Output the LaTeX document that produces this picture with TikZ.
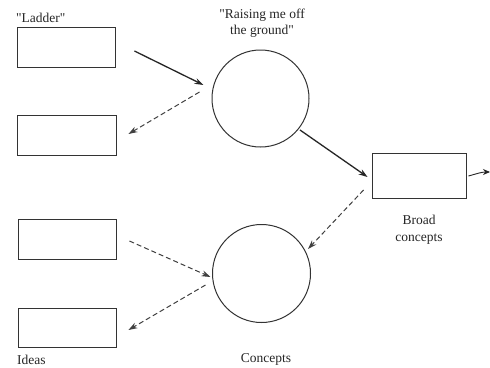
\documentclass[tikz,border=0pt]{standalone}
\usepackage{fontspec}
\setmainfont{Liberation Serif}[Ligatures=TeXOff]
\usetikzlibrary{arrows.meta,calc}
\begin{document}
\begin{tikzpicture}[x=1pt,y=-1pt,
  box/.style={draw=black!80,line width=0.9pt,inner sep=0pt,minimum width=98pt,minimum height=40pt},
  circ/.style={draw=black!80,line width=1pt,circle,inner sep=0pt,minimum size=97pt},
  lbl/.style={text=black!85,font=\fontsize{13.5}{16.5}\selectfont,inner sep=0pt},
  solidarrow/.style={draw=black!85,line width=1.3pt,-{Stealth[length=9pt,width=6pt]}},
  dasharrow/.style={draw=black!75,line width=1pt,dash pattern=on 5pt off 3pt,-{Stealth[length=9pt,width=6pt]}}]
\useasboundingbox (0,0) rectangle (490,367);
\fill[white] (0,0) rectangle (490,367);
% boxes
\node[box] (b1) at (66,47) {};
\node[box,minimum width=99pt] (b2) at (66.5,135) {};
\node[box] (b3) at (67,239) {};
\node[box,minimum height=39pt] (b4) at (67,327.5) {};
\node[box,minimum width=94pt,minimum height=45pt] (b5) at (419,175.5) {};
% circles
\node[circ] (c1) at (260.5,98.5) {};
\node[circ,minimum size=98pt] (c2) at (261.5,273.5) {};
% labels
\node[lbl,anchor=west] (lladder) at (16,18) {"Ladder"};
\node[lbl,align=center] (lraise) at (262,23) {"Raising me off\\the ground"};
\node[lbl,align=center] (lbroad) at (419,229.5) {Broad\\concepts};
\node[lbl,anchor=west] (lideas) at (17,360) {Ideas};
\node[lbl] (lconc) at (266,359) {Concepts};
% connectors
\draw[solidarrow] ($(b1.east)+(19,4)$) -- ($(c1.west)+(-8,-13.5)$);
\draw[dasharrow] ($(c1.west)+(-12,-6.5)$) -- ($(b2.east)+(12,-1)$);
\draw[solidarrow] ($(c1.center)+(39.5,31.5)$) -- ($(b5.west)+(-4,1.5)$);
\draw[dasharrow] ($(b5.west)+(-8,14.5)$) -- ($(c2.center)+(46.5,-24.5)$);
\draw[dasharrow] ($(b3.east)+(13,2)$) -- ($(c2.west)+(-1.5,3.5)$);
\draw[dasharrow] ($(c2.west)+(-6.5,11.5)$) -- ($(b4.east)+(12,2.5)$);
\coordinate (offpage) at (490,172);
\draw[draw=black!85,line width=0.9pt,-{Stealth[length=7pt,width=6pt]}] ($(b5.east)+(2,0.5)$) to[out=15,in=180] (offpage);
\end{tikzpicture}
\end{document}
